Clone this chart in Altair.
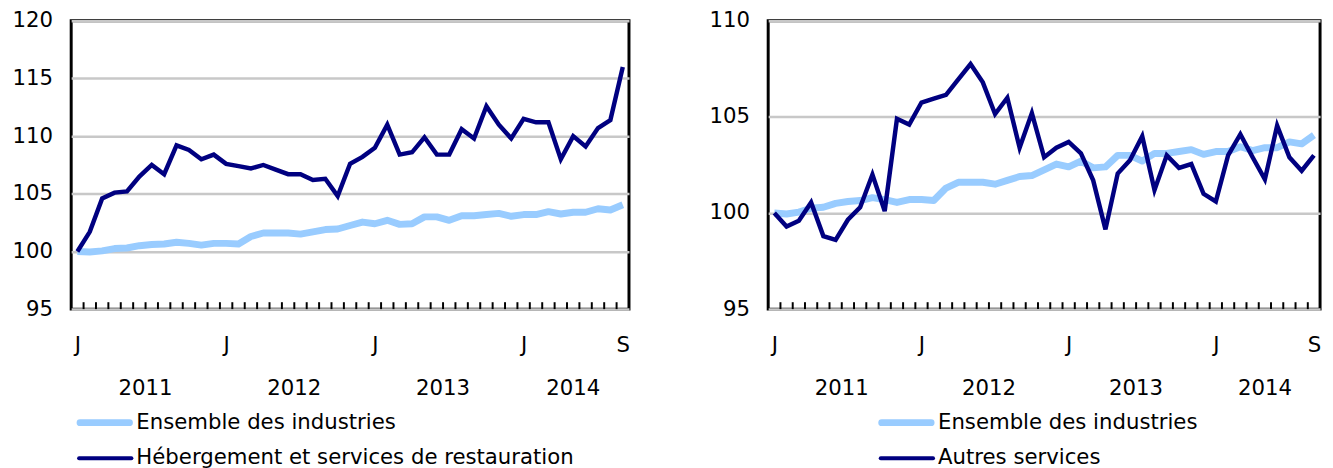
import altair as alt
import pandas as pd

# ---- data ----
months = pd.date_range("2011-01-01", "2014-09-01", freq="MS")
ensemble = [100.0, 99.95, 100.05, 100.25, 100.3, 100.5, 100.6, 100.65, 100.8, 100.7,
            100.55, 100.7, 100.7, 100.65, 101.3, 101.6, 101.6, 101.6, 101.5, 101.7,
            101.9, 101.95, 102.25, 102.55, 102.4, 102.7, 102.35, 102.4, 103.0, 103.0,
            102.7, 103.1, 103.1, 103.2, 103.3, 103.05, 103.2, 103.2, 103.45, 103.25,
            103.4, 103.4, 103.7, 103.6, 104.05]
hebergement = [100.0, 101.7, 104.6, 105.1, 105.2, 106.5, 107.5, 106.7, 109.2, 108.8,
               108.0, 108.4, 107.6, 107.4, 107.2, 107.5, 107.1, 106.7, 106.7, 106.2,
               106.3, 104.8, 107.6, 108.2, 109.0, 111.0, 108.4, 108.6, 109.9, 108.4,
               108.4, 110.6, 109.8, 112.6, 111.0, 109.8, 111.5, 111.2, 111.2, 108.0,
               110.0, 109.1, 110.7, 111.4, 116.0]
autres = [100.0, 99.3, 99.6, 100.55, 98.8, 98.6, 99.65, 100.3, 102.0, 100.1,
          104.9, 104.6, 105.75, 105.95, 106.15, 106.95, 107.75, 106.8, 105.15, 106.0,
          103.4, 105.2, 102.9, 103.4, 103.7, 103.1, 101.7, 99.15, 102.05, 102.75,
          104.0, 101.2, 103.0, 102.35, 102.55, 101.0, 100.6, 103.0, 104.1, 102.9,
          101.75, 104.55, 102.9, 102.2, 103.0]
label_ens = "Ensemble des industries"
label_heb = "Hébergement et services de restauration"
label_aut = "Autres services"

FONT = "DejaVu Sans"
FS = 21.5
LIGHT = "#99CCFF"
DARK = "#000080"

n = len(months)
idx = list(range(n))
# month-axis label positions: each January and the last month
label_pos = [i for i, m in enumerate(months) if m.month == 1] + [n - 1]
label_expr = "datum.value == %d ? 'S' : 'J'" % (n - 1)
years_df = (pd.DataFrame({"year": months.year.astype(str), "i": idx})
            .groupby("year", as_index=False)["i"].mean())
ticks_df = pd.DataFrame({"t": [i + 0.5 for i in idx[:-1]]})


def panel(series_label, values, ymin, ymax, w, h, leg_x):
    df = pd.DataFrame({"i": idx, "ens": ensemble, "s": values})
    xs = alt.Scale(domain=[-0.5, n - 0.5], nice=False, zero=False)
    ys = alt.Scale(domain=[ymin, ymax], nice=False, zero=False)
    xaxis = alt.Axis(values=label_pos, labelExpr=label_expr, grid=False, ticks=False,
                     domain=False, title=None, labelPadding=26, labelFontSize=FS,
                     labelFont=FONT, labelColor="black", labelAngle=0)
    yaxis = alt.Axis(values=list(range(ymin, ymax + 1, 5)), grid=True, gridColor="#C8C8C8",
                     gridWidth=2.5, ticks=False, domain=False, title=None, labelPadding=19,
                     labelFontSize=FS, labelFont=FONT, labelColor="black")
    base = alt.Chart(df)
    light = base.mark_line(color=LIGHT, strokeWidth=7, strokeJoin="round").encode(
        x=alt.X("i:Q", scale=xs, axis=xaxis),
        y=alt.Y("ens:Q", scale=ys, axis=yaxis))
    dark = base.mark_line(color=DARK, strokeWidth=4.5, strokeJoin="miter").encode(
        x="i:Q", y="s:Q")
    ticks = alt.Chart(ticks_df).mark_rule(color="black", strokeWidth=2).encode(
        x="t:Q", y=alt.value(h), y2=alt.value(h - 7))
    years = alt.Chart(years_df).mark_text(font=FONT, fontSize=FS, color="black",
                                          baseline="middle").encode(
        x="i:Q", text="year:N", y=alt.value(h + 81))
    one = pd.DataFrame({"a": [0]})
    y1, y2 = h + 115, h + 151
    sw1 = alt.Chart(one).mark_rule(color=LIGHT, strokeWidth=7, strokeCap="round").encode(
        x=alt.value(leg_x + 3), x2=alt.value(leg_x + 53), y=alt.value(y1))
    sw2 = alt.Chart(one).mark_rule(color=DARK, strokeWidth=4, strokeCap="round").encode(
        x=alt.value(leg_x + 2), x2=alt.value(leg_x + 55), y=alt.value(y2))
    t1 = alt.Chart(pd.DataFrame({"label": [label_ens]})).mark_text(
        font=FONT, fontSize=FS, color="black", align="left", baseline="middle").encode(
        x=alt.value(leg_x + 60), y=alt.value(y1), text="label:N")
    t2 = alt.Chart(pd.DataFrame({"label": [series_label]})).mark_text(
        font=FONT, fontSize=FS, color="black", align="left", baseline="middle").encode(
        x=alt.value(leg_x + 60), y=alt.value(y2), text="label:N")
    return alt.layer(light, dark, ticks, years, sw1, sw2, t1, t2).properties(width=w, height=h)


left = panel(label_heb, hebergement, 95, 120, 565, 292, 6)
right = panel(label_aut, autres, 95, 110, 559, 292, 112)

chart = alt.hconcat(left, right, spacing=74).properties(
    padding={"left": 2, "top": -3, "right": 0, "bottom": 0}
).configure_view(stroke="black", strokeWidth=3)

chart.save("out.html", embed_options={"renderer": "svg", "actions": False})
